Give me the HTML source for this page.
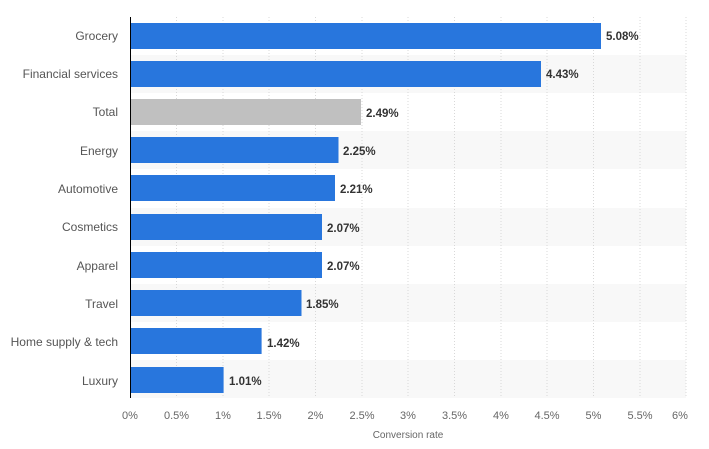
<!DOCTYPE html>
<html><head><meta charset="utf-8"><style>
body{margin:0;background:#fff;}
svg{display:block;font-family:"Liberation Sans",sans-serif;}
</style></head><body>
<svg width="709" height="449" viewBox="0 0 709 449">
<g fill="#f8f8f8">
<rect x="130" y="55" width="556" height="38"/>
<rect x="130" y="131" width="556" height="38"/>
<rect x="130" y="208" width="556" height="38"/>
<rect x="130" y="284" width="556" height="38"/>
<rect x="130" y="360" width="556" height="38"/>
</g>
<g stroke="#d8d8d8" stroke-dasharray="1,2" stroke-width="1">
<line x1="176.5" y1="17" x2="176.5" y2="398"/>
<line x1="223" y1="17" x2="223" y2="398"/>
<line x1="269" y1="17" x2="269" y2="398"/>
<line x1="315.5" y1="17" x2="315.5" y2="398"/>
<line x1="362" y1="17" x2="362" y2="398"/>
<line x1="408" y1="17" x2="408" y2="398"/>
<line x1="454.5" y1="17" x2="454.5" y2="398"/>
<line x1="501" y1="17" x2="501" y2="398"/>
<line x1="547" y1="17" x2="547" y2="398"/>
<line x1="593.5" y1="17" x2="593.5" y2="398"/>
<line x1="640" y1="17" x2="640" y2="398"/>
<line x1="686" y1="17" x2="686" y2="398"/>
</g>
<g fill="#2876dd">
<rect x="130" y="23" width="471" height="26"/>
<rect x="130" y="61" width="411" height="26"/>
<rect x="130" y="99" width="231" height="26" fill="#c0c0c0"/>
<rect x="130" y="137" width="208.5" height="26"/>
<rect x="130" y="175" width="205" height="26"/>
<rect x="130" y="214" width="192" height="26"/>
<rect x="130" y="252" width="192" height="26"/>
<rect x="130" y="290" width="171.5" height="26"/>
<rect x="130" y="328" width="131.6" height="26"/>
<rect x="130" y="367" width="93.6" height="26"/>
</g>
<line x1="130.5" y1="17" x2="130.5" y2="398" stroke="#000" stroke-width="1"/>
<g font-size="12" fill="#555" text-anchor="end">
<text x="118" y="40">Grocery</text>
<text x="118" y="78">Financial services</text>
<text x="118" y="116">Total</text>
<text x="118" y="155">Energy</text>
<text x="118" y="193">Automotive</text>
<text x="118" y="231">Cosmetics</text>
<text x="118" y="270">Apparel</text>
<text x="118" y="308">Travel</text>
<text x="118" y="346">Home supply &amp; tech</text>
<text x="118" y="385">Luxury</text>
</g>
<g font-size="11.5" font-weight="bold" fill="#333">
<text x="606" y="40">5.08%</text>
<text x="546" y="78">4.43%</text>
<text x="366" y="117">2.49%</text>
<text x="343" y="155">2.25%</text>
<text x="340" y="193">2.21%</text>
<text x="327" y="232">2.07%</text>
<text x="327" y="270">2.07%</text>
<text x="306" y="308">1.85%</text>
<text x="267" y="347">1.42%</text>
<text x="229" y="385">1.01%</text>
</g>
<g font-size="11" fill="#666" text-anchor="middle">
<text x="130" y="419">0%</text>
<text x="176.5" y="419">0.5%</text>
<text x="223" y="419">1%</text>
<text x="269" y="419">1.5%</text>
<text x="315.5" y="419">2%</text>
<text x="362" y="419">2.5%</text>
<text x="408" y="419">3%</text>
<text x="454.5" y="419">3.5%</text>
<text x="501" y="419">4%</text>
<text x="547" y="419">4.5%</text>
<text x="593.5" y="419">5%</text>
<text x="640" y="419">5.5%</text>
<text x="680" y="419">6%</text>
</g>
<text x="408" y="438" font-size="10" fill="#666" text-anchor="middle">Conversion rate</text>
</svg>
</body></html>
